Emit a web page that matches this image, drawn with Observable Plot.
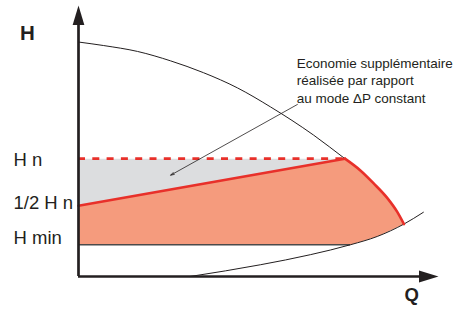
<!DOCTYPE html>
<html><head><meta charset="utf-8">
<script src="https://cdn.jsdelivr.net/npm/d3@7"></script>
<script src="https://cdn.jsdelivr.net/npm/@observablehq/plot@0.6"></script>
<style>body{margin:0;background:#fff} svg{display:block}</style>
</head><body><div id="chart"></div><script>
// Pump curve (H vs Q)
const pumpQ = [0, 7, 16.4, 25.6, 34.7, 44.2, 53.3, 65.3, 74, 78.3, 82, 85.8, 88.5, 90.4];
const pumpH = [19.9, 19.6, 19.1, 18.3, 17.3, 16.0, 14.4, 12.0, 10.0, 9.0, 7.9, 6.65, 5.5, 4.45];
// System curve
const sysQ = [31, 50.6, 64.4, 75.6, 83, 90.4, 95.8];
const sysH = [0, 1.0, 1.85, 2.7, 3.4, 4.45, 5.45];
// Levels
const levelNames = ["H n", "1/2 H n", "H min"];
const levelH = [10, 6, 2.7];
const Qn = 74;
// Annotation
const noteLines = ["Economie supplémentaire", "réalisée par rapport", "au mode \u0394P constant"];
const noteFrom = {Q: 60.8, H: 14.6};
const noteTo = {Q: 25.6, H: 8.6};
const noteTextAt = {Q: 60.6, H: 18.8};

const [Hn, halfHn, Hmin] = levelH;
const pump = pumpQ.map((q, i) => ({Q: q, H: pumpH[i]}));
const sys = sysQ.map((q, i) => ({Q: q, H: sysH[i]}));
const sysHminQ = sysQ[sysH.indexOf(Hmin)];
const Qend = pumpQ[pumpQ.length - 1];

const salmon = [
  {Q: 0, H: Hmin}, {Q: 0, H: halfHn},
  ...pump.filter(d => d.Q >= Qn),
  ...sys.filter(d => d.Q >= sysHminQ && d.Q < Qend).reverse()
];
const gray = [{Q: 0, H: Hn}, {Q: Qn, H: Hn}, {Q: 0, H: halfHn}];
const redLine = [{Q: 0, H: halfHn}, {Q: Qn, H: Hn}];

const RED = "#e8302a", INK = "#231f20";
const headUp = {draw(c, size) { const s = Math.sqrt(size); c.moveTo(0, 0); c.lineTo(s * 0.3, s); c.lineTo(-s * 0.3, s); c.closePath(); }};
const headRight = {draw(c, size) { const s = Math.sqrt(size); c.moveTo(0, 0); c.lineTo(-s, s * 0.31); c.lineTo(-s, -s * 0.31); c.closePath(); }};

const chart = Plot.plot({
  width: 454, height: 311,
  marginLeft: 78, marginRight: 16, marginTop: 5, marginBottom: 35,
  x: {domain: [0, 100], axis: null},
  y: {domain: [0, 23], axis: null},
  style: {fontFamily: "'Liberation Sans', Arial, sans-serif", background: "#fff", color: INK},
  marks: [
    Plot.line(salmon, {x: "Q", y: "H", fill: "#f59b7d", stroke: "none", curve: "linear"}),
    Plot.line(gray, {x: "Q", y: "H", fill: "#dcdddf", stroke: "none"}),
    Plot.ruleY([Hmin], {x1: 0, x2: sysHminQ, stroke: "#4a4a4a", strokeWidth: 1.5}),
    Plot.line(pump, {x: "Q", y: "H", curve: "monotone-x", stroke: INK, strokeWidth: 1}),
    Plot.line(sys, {x: "Q", y: "H", curve: "monotone-x", stroke: INK, strokeWidth: 1}),
    Plot.ruleY([Hn], {x1: 0, x2: Qn, stroke: RED, strokeWidth: 2.8, strokeDasharray: "7,7.3"}),
    Plot.line(redLine, {x: "Q", y: "H", stroke: RED, strokeWidth: 2.6}),
    Plot.line(pump.filter(d => d.Q >= Qn), {x: "Q", y: "H", curve: "monotone-x", stroke: RED, strokeWidth: 2.6}),
    Plot.ruleX([0], {y1: 0, y2: 21.5, stroke: INK, strokeWidth: 2.7}),
    Plot.ruleY([0], {x1: 0, x2: 96, stroke: INK, strokeWidth: 2.7}),
    Plot.dot([{Q: 0, H: 23}], {x: "Q", y: "H", symbol: headUp, r: 11, fill: INK, stroke: "none"}),
    Plot.dot([{Q: 100, H: 0}], {x: "Q", y: "H", symbol: headRight, r: 11, fill: INK, stroke: "none"}),
    Plot.arrow([{}], {x1: noteFrom.Q, y1: noteFrom.H, x2: noteTo.Q, y2: noteTo.H, stroke: INK, strokeWidth: 0.8, headLength: 7, headAngle: 35}),
    Plot.text([noteLines.join("\n")], {x: noteTextAt.Q, y: noteTextAt.H, text: d => d, textAnchor: "start", lineAnchor: "top", lineHeight: 1.32, fontSize: 13.5, fill: INK}),
    Plot.text([levelNames[0]], {x: 0, y: Hn, text: d => d, dx: -65, dy: 1.5, textAnchor: "start", fontSize: 18.5, fill: INK}),
    Plot.text([levelNames[1]], {x: 0, y: halfHn, text: d => d, dx: -65, dy: -3, textAnchor: "start", fontSize: 18.5, fill: INK}),
    Plot.text([levelNames[2]], {x: 0, y: Hmin, text: d => d, dx: -65, dy: -6.5, textAnchor: "start", fontSize: 18.5, fill: INK}),
    Plot.text(["H"], {frameAnchor: "top-left", text: d => d, dx: -58.5, dy: 19.5, fontSize: 20.5, fontWeight: "bold", fill: INK}),
    Plot.text(["Q"], {frameAnchor: "bottom-right", text: d => d, dx: -19.5, dy: 24, fontSize: 18.5, fontWeight: "bold", fill: INK})
  ]
});
document.getElementById("chart").append(chart);
</script></body></html>
